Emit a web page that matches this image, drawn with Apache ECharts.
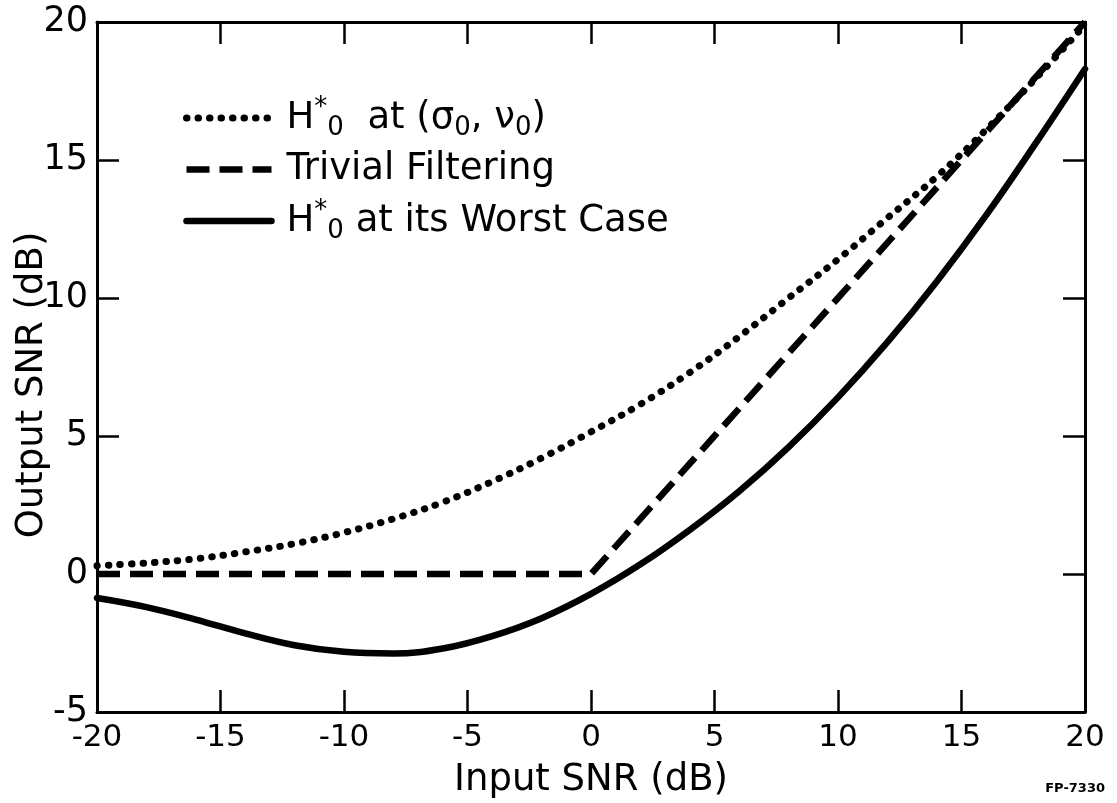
<!DOCTYPE html>
<html>
<head>
<meta charset="utf-8">
<script src="https://cdn.jsdelivr.net/npm/echarts@6/dist/echarts.min.js"></script>
<style>
html,body{margin:0;padding:0;background:#fff;}
#chart{width:1117px;height:803px;}
</style>
</head>
<body>
<div id="chart"></div>
<script>
// Input SNR (dB)
const inputSNR = [-20,-18,-16,-14,-12,-10,-8,-6,-4,-2,0,2,4,6,8,10,12,14,16,18,20];
// H0* at (sigma0, nu0) — dotted
const nominalVals = [0.3,0.4,0.55,0.8,1.1,1.5,2.0,2.6,3.35,4.2,5.15,6.15,7.3,8.6,10.0,11.4,12.9,14.4,16.1,17.95,19.9];
// Trivial filtering — dashed
const trivialX = [-20,-15,-10,-5,0,5,10,15,20];
const trivialVals = [0,0,0,0,0,5,10,15,20];
// H0* at its worst case — solid
const worstVals = [-0.87,-1.2,-1.65,-2.15,-2.58,-2.82,-2.88,-2.7,-2.25,-1.6,-0.72,0.35,1.6,3.0,4.6,6.4,8.4,10.6,13.0,15.6,18.3];
// tick labels
const xTicks = [-20,-15,-10,-5,0,5,10,15,20];
const yTicks = [-5,0,5,10,15,20];

const legendLabels = {
  nominal: '{b|H}{s|*}{u|0}{b|  at (σ}{u|0}{b|, ν}{u|0}{b|)}',
  trivial: '{b|Trivial Filtering}',
  worst: '{b|H}{s|*}{u|0}{b| at its Worst Case}'
};

const FONT = 'DejaVu Sans';
const pair = (xs, ys) => xs.map((x, i) => [x, ys[i]]);

const dotStyle = {color:'#000', width:7, type:[0.5, 11], cap:'round'};
const dashStyle = {color:'#000', width:6.5, type:[23, 10], cap:'butt'};
const solidStyle = {color:'#000', width:6.5, type:'solid', cap:'round'};

const axisCommon = {
  axisLine: {show:true, onZero:false, lineStyle:{color:'#000', width:3}},
  axisTick: {show:true, inside:true, length:22, lineStyle:{color:'#000', width:2.5}},
  splitLine: {show:false}
};

const chart = echarts.init(document.getElementById('chart'));
chart.setOption({
  backgroundColor:'#fff',
  animation:false,
  grid:{left:97, right:32, top:22, bottom:91, containLabel:false, outerBoundsMode:'none'},
  legend:{
    orient:'vertical', left:178, top:90, itemGap:10,
    itemWidth:85, itemHeight:14,
    textStyle:{fontFamily:FONT, color:'#000', padding:[0,0,0,10],
      rich:{
        b:{fontFamily:FONT, fontSize:37, lineHeight:46, color:'#000'},
        s:{fontFamily:FONT, fontSize:26, lineHeight:26, verticalAlign:'top', color:'#000'},
        u:{fontFamily:FONT, fontSize:26, lineHeight:24, verticalAlign:'bottom', color:'#000'}
      }},
    formatter: n => legendLabels[n],
    data:[
      {name:'nominal', lineStyle:dotStyle, itemStyle:{opacity:0}},
      {name:'trivial', lineStyle:dashStyle, itemStyle:{opacity:0}},
      {name:'worst', lineStyle:solidStyle, itemStyle:{opacity:0}}
    ]
  },
  xAxis:[
    Object.assign({}, axisCommon, {
      type:'value', min:-20, max:20, interval:5, position:'bottom',
      axisLabel:{show:true, fontFamily:FONT, fontSize:31, color:'#000', margin:10,
        formatter:v => xTicks.includes(v) ? String(v) : ''},
      name:'Input SNR (dB)', nameLocation:'middle', nameGap:50, nameMoveOverlap:false,
      nameTextStyle:{fontFamily:FONT, fontSize:37, color:'#000'}
    }),
    Object.assign({}, axisCommon, {
      type:'value', min:-20, max:20, interval:5, position:'top',
      axisLabel:{show:false}
    })
  ],
  yAxis:[
    Object.assign({}, axisCommon, {
      type:'value', min:-5, max:20, interval:5, position:'left',
      axisLabel:{show:true, fontFamily:FONT, fontSize:35, color:'#000', margin:9,
        formatter:v => yTicks.includes(v) ? String(v) : ''},
      name:'Output SNR (dB)', nameLocation:'middle', nameGap:46, nameMoveOverlap:false,
      nameTextStyle:{fontFamily:FONT, fontSize:37, color:'#000', padding:[0,36,0,0]}
    }),
    Object.assign({}, axisCommon, {
      type:'value', min:-5, max:20, interval:5, position:'right',
      axisLabel:{show:false}
    })
  ],
  series:[
    {name:'nominal', type:'line', smooth:0.4, symbol:'none', color:'#000', data:pair(inputSNR, nominalVals), lineStyle:dotStyle, z:3},
    {name:'trivial', type:'line', smooth:false, symbol:'none', color:'#000', data:pair(trivialX, trivialVals), lineStyle:dashStyle, z:2},
    {name:'worst', type:'line', smooth:0.4, symbol:'none', color:'#000', data:pair(inputSNR, worstVals), lineStyle:solidStyle, z:4}
  ],
  graphic:[
    {type:'text', right:12, bottom:8, style:{text:'FP-7330', fontFamily:FONT, fontWeight:'bold', fontSize:13, fill:'#000'}}
  ]
});
</script>
</body>
</html>
